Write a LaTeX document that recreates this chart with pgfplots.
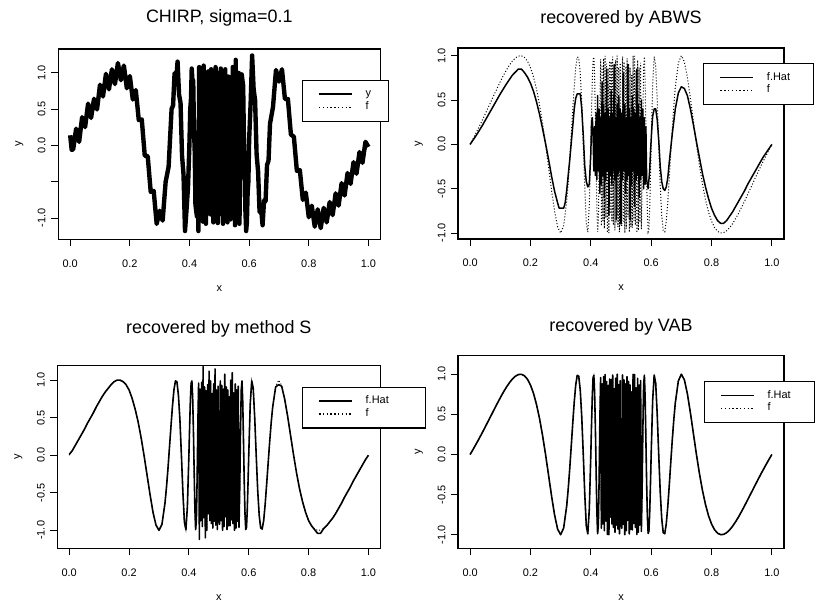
\documentclass[border=0pt]{standalone}
\usepackage{fontspec}
\setmainfont{Liberation Sans}
\usepackage{pgfplots}
\usepackage{pgfplotstable}
\pgfplotsset{compat=1.18}

% true chirp f
\pgfplotstableread{
x y
0.00 0
0.01 0.064
0.02 0.131
0.03 0.199
0.04 0.270
0.05 0.342
0.06 0.416
0.07 0.489
0.08 0.563
0.09 0.636
0.10 0.707
0.11 0.775
0.12 0.837
0.13 0.893
0.14 0.940
0.15 0.975
0.16 0.996
0.17 0.999
0.18 0.981
0.19 0.938
0.20 0.866
0.21 0.763
0.22 0.623
0.23 0.449
0.24 0.239
0.25 0
0.26 -0.259
0.27 -0.520
0.28 -0.756
0.29 -0.931
0.30 -1.000
0.31 -0.916
0.32 -0.643
0.325 -0.434
0.33 -0.184
0.335 0.095
0.34 0.383
0.345 0.651
0.35 0.866
0.355 0.987
0.36 0.975
0.365 0.802
0.37 0.465
0.375 0
0.38 -0.500
0.385 -0.888
0.39 -0.990
0.395 -0.680
0.40 0
0.4025 0.392
0.405 0.736
0.4075 0.956
0.41 0.985
0.4125 0.782
0.415 0.361
0.4175 -0.189
0.42 -0.707
0.4225 -0.988
0.425 -0.866
0.4275 -0.319
0.43 0.434
0.4325 0.958
0.435 -0.92
0.4375 0.88
0.44 -0.866
0.4425 0.97
0.445 -0.95
0.4475 0.997
0.45 -0.83
0.4525 0.91
0.455 -0.997
0.4575 0.86
0.46 -1.0
0.4625 0.94
0.465 -0.78
0.4675 0.935
0.47 -0.866
0.4725 0.99
0.475 -0.91
0.4775 0.82
0.48 -0.97
0.4825 0.95
0.485 -0.88
0.4875 1.0
0.49 -0.93
0.4925 0.87
0.495 -0.99
0.4975 0.92
0.50 -0.85
0.5025 -0.92
0.505 0.99
0.5075 -0.87
0.51 0.93
0.5125 -1.0
0.515 0.88
0.5175 -0.95
0.52 0.97
0.5225 -0.82
0.525 0.91
0.5275 -0.99
0.53 0.866
0.5325 -0.935
0.535 0.78
0.5375 -0.94
0.54 1.0
0.5425 -0.86
0.545 0.997
0.5475 -0.91
0.55 0.83
0.5525 -0.997
0.555 0.95
0.5575 -0.97
0.56 0.866
0.5625 -0.88
0.565 0.92
0.5675 -0.958
0.57 -0.434
0.5725 0.319
0.575 0.866
0.5775 0.988
0.58 0.707
0.5825 0.189
0.585 -0.361
0.5875 -0.782
0.59 -0.985
0.5925 -0.956
0.595 -0.736
0.5975 -0.392
0.60 0
0.605 0.680
0.61 0.990
0.615 0.888
0.62 0.500
0.625 0
0.63 -0.465
0.635 -0.802
0.64 -0.975
0.645 -0.987
0.65 -0.866
0.655 -0.651
0.66 -0.383
0.665 -0.095
0.67 0.184
0.675 0.434
0.68 0.643
0.69 0.916
0.70 1.000
0.71 0.931
0.72 0.756
0.73 0.520
0.74 0.259
0.75 0
0.76 -0.239
0.77 -0.449
0.78 -0.623
0.79 -0.763
0.80 -0.866
0.81 -0.938
0.82 -0.981
0.83 -0.999
0.84 -0.996
0.85 -0.975
0.86 -0.940
0.87 -0.893
0.88 -0.837
0.89 -0.775
0.90 -0.707
0.91 -0.636
0.92 -0.563
0.93 -0.489
0.94 -0.416
0.95 -0.342
0.96 -0.270
0.97 -0.199
0.98 -0.131
0.99 -0.064
1.00 0
}\ftab

% noisy observations y
\pgfplotstableread{
x y
0.00 0.14
0.005 -0.06
0.01 -0.056
0.02 0.231
0.03 0.049
0.04 0.390
0.05 0.252
0.06 0.576
0.07 0.379
0.08 0.643
0.09 0.496
0.10 0.837
0.11 0.675
0.12 0.987
0.13 0.773
0.14 1.050
0.15 0.845
0.16 1.136
0.17 0.899
0.18 1.101
0.19 0.788
0.20 0.956
0.21 0.633
0.22 0.763
0.23 0.349
0.24 0.359
0.25 -0.140
0.26 -0.149
0.27 -0.640
0.28 -0.626
0.29 -1.081
0.30 -0.900
0.31 -1.036
0.32 -0.503
0.33 -0.294
0.34 0.503
0.345 0.551
0.35 0.996
0.355 0.867
0.36 1.155
0.365 0.702
0.37 0.585
0.375 -0.14
0.38 -0.40
0.385 -1.18
0.39 -0.89
0.395 -0.58
0.40 0.05
0.4025 0.50
0.405 0.64
0.4075 1.06
0.41 0.89
0.4125 0.90
0.415 0.25
0.4175 -0.08
0.42 -0.82
0.4225 -0.90
0.425 -0.98
0.4275 -0.21
0.43 -1.18
0.4325 1.08
0.435 -0.85
0.4375 0.95
0.44 -0.97
0.4425 0.90
0.445 -1.05
0.4475 1.10
0.45 -0.76
0.4525 1.00
0.455 -1.08
0.4575 0.78
0.46 -0.92
0.4625 1.02
0.465 -0.88
0.4675 0.84
0.47 -0.95
0.4725 1.05
0.475 -0.83
0.4775 0.90
0.48 -1.06
0.4825 0.88
0.485 -0.97
0.4875 1.08
0.49 -0.85
0.4925 0.80
0.495 -1.07
0.4975 1.00
0.50 -0.78
0.5025 -0.84
0.505 1.06
0.5075 -0.95
0.51 0.85
0.5125 -1.08
0.515 0.96
0.5175 -0.88
0.52 1.05
0.5225 -0.90
0.525 0.83
0.5275 -1.06
0.53 0.95
0.5325 -0.84
0.535 0.88
0.5375 -1.02
0.54 0.92
0.5425 -0.78
0.545 1.08
0.5475 -1.00
0.55 0.76
0.5525 -1.10
0.555 1.18
0.5575 -0.90
0.56 0.97
0.5625 -0.80
0.565 1.00
0.5675 -1.08
0.57 -0.33
0.5725 0.21
0.575 0.98
0.5775 0.90
0.58 0.82
0.5825 0.08
0.585 -0.25
0.5875 -0.90
0.59 -1.18
0.5925 -1.06
0.595 -0.64
0.5975 -0.50
0.60 0.08
0.605 0.58
0.61 1.24
0.615 0.78
0.62 0.62
0.625 -0.12
0.63 -0.36
0.635 -0.92
0.64 -0.86
0.645 -1.10
0.65 -0.76
0.655 -0.77
0.66 -0.27
0.665 -0.21
0.67 0.30
0.68 0.53
0.69 1.04
0.70 0.88
0.71 1.05
0.72 0.64
0.73 0.64
0.74 0.15
0.75 0.12
0.76 -0.35
0.77 -0.34
0.78 -0.75
0.79 -0.65
0.80 -0.99
0.81 -0.83
0.82 -1.12
0.83 -0.88
0.84 -1.14
0.85 -0.86
0.86 -1.06
0.87 -0.78
0.88 -0.96
0.89 -0.66
0.90 -0.83
0.91 -0.52
0.92 -0.69
0.93 -0.38
0.94 -0.53
0.95 -0.23
0.96 -0.39
0.97 -0.09
0.98 -0.24
0.99 0.05
1.00 -0.02
}\ytab

% ABWS estimate
\pgfplotstableread{
x y
0.00 0.00
0.02 0.10
0.04 0.21
0.06 0.33
0.08 0.45
0.10 0.57
0.12 0.68
0.14 0.78
0.16 0.85
0.17 0.85
0.18 0.81
0.19 0.76
0.20 0.69
0.21 0.60
0.22 0.48
0.23 0.34
0.24 0.18
0.25 0.01
0.26 -0.17
0.27 -0.36
0.28 -0.53
0.29 -0.66
0.295 -0.72
0.31 -0.72
0.315 -0.66
0.32 -0.52
0.33 -0.18
0.34 0.20
0.345 0.40
0.35 0.52
0.355 0.57
0.365 0.57
0.37 0.40
0.375 0.10
0.38 -0.25
0.385 -0.42
0.39 -0.48
0.395 -0.45
0.40 -0.10
0.4025 0.25
0.405 0.30
0.4075 0.10
0.41 -0.30
0.4125 0.20
0.415 -0.35
0.4175 0.35
0.42 -0.40
0.4225 0.55
0.425 -0.30
0.4275 0.40
0.43 -0.55
0.4325 0.30
0.435 -0.45
0.4375 0.70
0.44 -0.35
0.4425 0.45
0.445 -0.60
0.4475 0.35
0.45 -0.40
0.4525 0.85
0.455 -0.30
0.4575 0.40
0.46 -0.80
0.4625 0.30
0.465 -0.35
0.4675 0.60
0.47 -0.45
0.4725 0.35
0.475 -0.30
0.4775 0.90
0.48 -0.40
0.4825 0.30
0.485 -0.85
0.4875 0.45
0.49 -0.35
0.4925 0.55
0.495 -0.30
0.4975 0.40
0.50 -0.90
0.5025 0.35
0.505 -0.40
0.5075 0.80
0.51 -0.30
0.5125 0.45
0.515 -0.55
0.5175 0.30
0.52 -0.40
0.5225 0.90
0.525 -0.35
0.5275 0.40
0.53 -0.85
0.5325 0.30
0.535 -0.45
0.5375 0.55
0.54 -0.30
0.5425 0.40
0.545 -0.70
0.5475 0.35
0.55 -0.40
0.5525 0.85
0.555 -0.35
0.5575 0.45
0.56 -0.60
0.5625 0.30
0.565 -0.40
0.5675 0.50
0.57 -0.35
0.5725 0.40
0.575 -0.50
0.5775 0.30
0.58 -0.45
0.5825 0.20
0.585 -0.40
0.5875 -0.45
0.59 -0.50
0.5925 -0.40
0.595 -0.30
0.5975 -0.10
0.60 0.05
0.6025 0.20
0.605 0.32
0.61 0.40
0.615 0.40
0.62 0.28
0.625 0.05
0.63 -0.25
0.635 -0.42
0.64 -0.50
0.645 -0.52
0.65 -0.48
0.655 -0.38
0.66 -0.20
0.67 0.12
0.68 0.40
0.69 0.58
0.70 0.65
0.71 0.63
0.72 0.55
0.73 0.40
0.74 0.22
0.75 0.03
0.76 -0.15
0.77 -0.33
0.78 -0.48
0.79 -0.61
0.80 -0.72
0.81 -0.80
0.82 -0.86
0.83 -0.89
0.84 -0.89
0.85 -0.86
0.86 -0.81
0.87 -0.76
0.88 -0.70
0.89 -0.64
0.90 -0.58
0.91 -0.52
0.92 -0.45
0.93 -0.39
0.94 -0.33
0.95 -0.27
0.96 -0.21
0.97 -0.15
0.98 -0.10
0.99 -0.05
1.00 0.00
}\abwstab

% method S estimate
\pgfplotstableread{
x y
0.00 0.01
0.01 0.06
0.02 0.13
0.03 0.20
0.04 0.27
0.05 0.34
0.06 0.42
0.07 0.49
0.08 0.56
0.09 0.64
0.10 0.71
0.11 0.78
0.12 0.84
0.13 0.89
0.14 0.94
0.15 0.98
0.16 1.00
0.17 1.00
0.18 0.98
0.19 0.94
0.20 0.87
0.21 0.76
0.22 0.62
0.23 0.45
0.24 0.24
0.25 0.00
0.26 -0.26
0.27 -0.52
0.28 -0.76
0.29 -0.93
0.30 -1.00
0.31 -0.92
0.32 -0.64
0.325 -0.43
0.33 -0.18
0.335 0.10
0.34 0.38
0.345 0.65
0.35 0.87
0.355 0.99
0.36 0.98
0.365 0.80
0.37 0.47
0.375 0.00
0.38 -0.50
0.385 -0.89
0.39 -0.99
0.395 -0.68
0.40 0.00
0.4025 0.39
0.405 0.74
0.4075 0.96
0.41 0.99
0.4125 0.78
0.415 0.36
0.4175 -0.19
0.42 -0.71
0.4225 -0.99
0.425 -0.87
0.4275 -0.32
0.43 0.43
0.4325 0.96
0.435 -1.12
0.4375 0.88
0.44 -0.87
0.4425 0.97
0.445 -0.95
0.4475 1.18
0.45 -0.83
0.4525 0.91
0.455 -1.10
0.4575 0.86
0.46 -1.00
0.4625 0.94
0.465 -0.78
0.4675 1.12
0.47 -0.87
0.4725 0.99
0.475 -0.91
0.4775 0.82
0.48 -0.97
0.4825 0.95
0.485 -0.88
0.4875 1.15
0.49 -0.93
0.4925 0.87
0.495 -0.99
0.4975 0.92
0.50 -0.85
0.5025 -0.92
0.505 0.99
0.5075 -0.87
0.51 0.93
0.5125 -1.00
0.515 0.88
0.5175 -0.95
0.52 1.08
0.5225 -0.82
0.525 0.91
0.5275 -0.99
0.53 0.87
0.5325 -0.94
0.535 0.78
0.5375 -0.94
0.54 1.00
0.5425 -0.86
0.545 1.10
0.5475 -0.91
0.55 0.83
0.5525 -1.00
0.555 0.95
0.5575 -0.97
0.56 0.87
0.5625 -0.88
0.565 0.92
0.5675 -0.96
0.57 -0.43
0.5725 0.32
0.575 0.87
0.5775 0.99
0.58 0.71
0.5825 0.19
0.585 -0.36
0.5875 -0.78
0.59 -0.99
0.5925 -0.96
0.595 -0.74
0.5975 -0.39
0.60 0.00
0.605 0.68
0.61 0.99
0.615 0.89
0.62 0.50
0.625 0.00
0.63 -0.47
0.635 -0.80
0.64 -0.97
0.645 -0.98
0.65 -0.87
0.655 -0.65
0.66 -0.38
0.665 -0.10
0.67 0.18
0.675 0.43
0.68 0.64
0.69 0.91
0.70 0.94
0.71 0.92
0.72 0.75
0.73 0.52
0.74 0.26
0.75 0.00
0.76 -0.24
0.77 -0.45
0.78 -0.62
0.79 -0.76
0.80 -0.87
0.81 -0.94
0.82 -0.99
0.83 -1.04
0.84 -1.04
0.85 -0.98
0.86 -0.94
0.87 -0.89
0.88 -0.84
0.89 -0.78
0.90 -0.71
0.91 -0.64
0.92 -0.56
0.93 -0.49
0.94 -0.42
0.95 -0.34
0.96 -0.27
0.97 -0.20
0.98 -0.13
0.99 -0.06
1.00 0.00
}\stab

\pgfplotsset{
  rstyle/.style={
    scale only axis,
    xmin=-0.04, xmax=1.04,
    xtick={0,0.2,0.4,0.6,0.8,1},
    xticklabels={0.0,0.2,0.4,0.6,0.8,1.0},
    ytick={-1,-0.5,0,0.5,1},
    yticklabels={-1.0,-0.5,0.0,0.5,1.0},
    tick align=outside,
    tick pos=left,
    major tick length=7pt,
    every tick/.style={black, line width=1pt},
    axis line style={line width=1.2pt},
    ticklabel style={font=\fontsize{11}{11}\selectfont, inner sep=0pt},
    xticklabel style={anchor=north},
    xticklabel shift=13pt,
    yticklabel style={rotate=90, anchor=south},
    yticklabel shift=5.5pt,
    xlabel={x}, ylabel={y},
    label style={font=\fontsize{11}{11}\selectfont},
    xlabel style={at={(axis description cs:0.5,0)}, anchor=base, yshift=-52pt},
    ylabel style={at={(axis description cs:-0.115,0.5)}, anchor=base},
    title style={font=\fontsize{18}{18}\selectfont, at={(axis description cs:0.5,1)}, anchor=base},
    legend cell align=left,
    legend style={draw=black, line width=1.2pt, fill=white, anchor=north west,
      inner xsep=16pt, inner ysep=9pt, row sep=3pt,
      font=\fontsize{11}{11}\selectfont,
      nodes={inner sep=0pt, text height=7.5pt, text depth=2.5pt},
      /tikz/every odd column/.append style={column sep=13pt}},
  },
  solidleg/.style={legend image code/.code={\draw[line width=1.5pt] (0pt,0pt) -- (33pt,0pt);}},
  dotleg/.style={legend image code/.code={\draw[line width=1.3pt, dash pattern=on 1.4pt off 2.4pt] (0pt,0pt) -- (33pt,0pt);}},
}

\begin{document}
\begin{tikzpicture}[x=1pt,y=1pt]
\path (0,0) rectangle (815,607);

% Panel 1
\begin{axis}[rstyle, at={(58.5pt,366.7pt)}, anchor=south west,
  width=323.5pt, height=191pt, ymin=-1.293, ymax=1.328,
  yticklabels={-1.0,,0.0,0.5,1.0},
  title={CHIRP, sigma=0.1}, title style={yshift=20.8pt},
  legend style={at={(axis description cs:0.756,0.839)}}]
\addplot[black, line width=4.4pt, line join=round, solidleg] table[x=x,y=y] {\ytab};
\addlegendentry{\makebox[7pt][l]{y}}
\addplot[black, line width=0.9pt, dash pattern=on 1pt off 2pt, dotleg] table[x=x,y=y] {\ftab};
\addlegendentry{\makebox[7pt][l]{f}}
\end{axis}

% Panel 2
\begin{axis}[rstyle, at={(460pt,367pt)}, anchor=south west,
  width=327.3pt, height=191.7pt, ymin=-1.067, ymax=1.086,
  title={recovered by ABWS}, title style={yshift=18.3pt},
  legend style={at={(axis description cs:0.752,0.922)}}]
\addplot[black, line width=1.5pt, line join=round, solidleg] table[x=x,y=y] {\abwstab};
\addlegendentry{\makebox[31pt][l]{f.Hat}}
\addplot[black, line width=1.0pt, dash pattern=on 1pt off 2pt, dotleg] table[x=x,y=y] {\ftab};
\addlegendentry{\makebox[31pt][l]{f}}
\end{axis}

% Panel 3
\begin{axis}[rstyle, at={(57.5pt,56.3pt)}, anchor=south west,
  width=324.5pt, height=184pt, ymin=-1.24, ymax=1.2,
  title={recovered by method S}, title style={yshift=25.8pt},
  legend style={at={(axis description cs:0.757,0.883)}}]
\addplot[black, line width=1.6pt, line join=round, solidleg] table[x=x,y=y] {\stab};
\addlegendentry{\makebox[44pt][l]{f.Hat}}
\addplot[black, line width=0.9pt, dash pattern=on 1pt off 2pt, dotleg] table[x=x,y=y] {\ftab};
\addlegendentry{\makebox[44pt][l]{f}}
\end{axis}

% Panel 4
\begin{axis}[rstyle, at={(460pt,56.3pt)}, anchor=south west,
  width=327.3pt, height=193.4pt, ymin=-1.17, ymax=1.23,
  title={recovered by VAB}, title style={yshift=18.8pt},
  legend style={at={(axis description cs:0.754,0.869)}}]
\addplot[black, line width=1.6pt, line join=round, solidleg] table[x=x,y=y] {\ftab};
\addlegendentry{\makebox[31pt][l]{f.Hat}}
\addplot[black, line width=0.9pt, dash pattern=on 1pt off 2pt, dotleg] table[x=x,y=y] {\ftab};
\addlegendentry{\makebox[31pt][l]{f}}
\end{axis}
\end{tikzpicture}
\end{document}
